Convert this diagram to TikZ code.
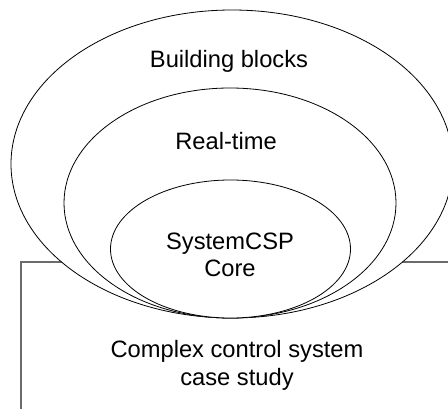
\documentclass[tikz,border=0pt]{standalone}
\usepackage{fontspec}
\setmainfont{Liberation Sans}
\begin{document}
\begin{tikzpicture}[x=1pt,y=-1pt,
  ring/.style={draw=black,line width=0.8pt,fill=white},
  frame/.style={draw=black!58,line width=1.1pt},
  label/.style={align=center,anchor=base,inner sep=0pt,
    font=\fontsize{23.7}{27.5}\selectfont}]
\useasboundingbox (0,0) rectangle (448,409);
\clip (0,0) rectangle (448,409);
% open frame around the application layer
\draw[frame] (21,520) -- (21,262) -- (560,262) -- (560,520);
% nested layers, all resting on one bottom point
\path[ring] (232,164) ellipse [x radius=221, y radius=154];
\path[ring] (230,203) ellipse [x radius=166, y radius=115];
\path[ring] (230.5,249) ellipse [x radius=120, y radius=69];
% the base anchor of a two-line label sits on its last line
\node[label] (bb) at (229,68) {Building blocks};
\node[label] (rt) at (226,150) {Real-time};
\node[label] (core) at (230,277) {SystemCSP\\Core};
\node[label] (cs) at (237,385) {Complex control system\\case study};
\end{tikzpicture}
\end{document}
